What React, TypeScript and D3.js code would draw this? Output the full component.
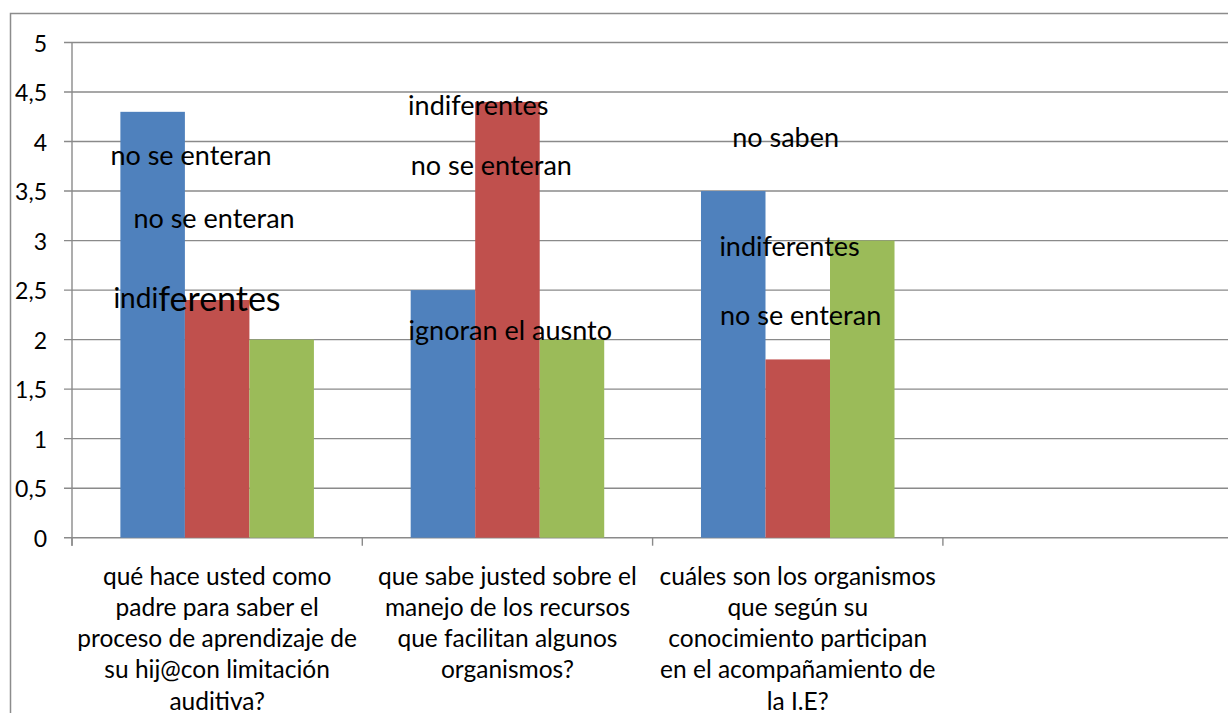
import { useEffect, useRef } from "react";
import * as d3 from "d3";

// questions (the 4th slot is empty in the original chart)
const categories = [
  [
    "qué hace usted como",
    "padre para saber el",
    "proceso de aprendizaje de",
    "su hij@con limitación",
    "auditiva?",
  ],
  [
    "que sabe justed sobre el",
    "manejo de los recursos",
    "que facilitan algunos",
    "organismos?",
  ],
  [
    "cuáles son los organismos",
    "que según su",
    "conocimiento participan",
    "en el acompañamiento de",
    "la I.E?",
  ],
  [],
];

const seriesNames = ["Serie1", "Serie2", "Serie3"];
const serie1 = [4.3, 2.5, 3.5];
const serie2 = [2.4, 4.4, 1.8];
const serie3 = [2.0, 2.0, 3.0];
const seriesColors = ["#4F81BD", "#C0504D", "#9BBB59"];

const yTicks = [0, 0.5, 1, 1.5, 2, 2.5, 3, 3.5, 4, 4.5, 5];

// free text boxes put over the chart
const noteCategory = [0, 0, 0, 1, 1, 1, 2, 2, 2];
const noteTexts = [
  "no se enteran",
  "no se enteran",
  "indiferentes",
  "indiferentes",
  "no se enteran",
  "ignoran el ausnto",
  "no saben",
  "indiferentes",
  "no se enteran",
];
const noteValues = [3.87, 3.23, 2.43, 4.37, 3.77, 2.1, 4.05, 2.95, 2.25];

const App = () => {
  const svgRef = useRef<SVGSVGElement>(null);

  useEffect(() => {
    if (!svgRef.current) return;
    const svg = d3.select(svgRef.current);
    svg.selectAll("*").remove();

    const width = 1228;
    const height = 713;
    const left = 72;
    const top = 42.5;
    const bottom = 537.7;
    const step = 290.3;
    const font = "Lato, 'Open Sans', sans-serif";

    // chart frame
    svg
      .append("path")
      .attr("d", `M10.5,${height} V13.5 H${width}`)
      .attr("fill", "none")
      .attr("stroke", "#8c8c8c")
      .attr("stroke-width", 1.5);

    const y = d3.scaleLinear().domain([0, 5]).range([bottom, top]);
    const x0 = d3
      .scaleBand<number>()
      .domain(categories.map((_, i) => i))
      .range([left, left + step * categories.length]);
    const x1 = d3
      .scaleBand<string>()
      .domain(seriesNames)
      .range([0, x0.bandwidth()])
      .paddingInner(0)
      .paddingOuter(0.75);

    // gridlines
    svg
      .append("g")
      .selectAll("line")
      .data(yTicks)
      .join("line")
      .attr("x1", left - 8)
      .attr("x2", width)
      .attr("y1", (d) => y(d))
      .attr("y2", (d) => y(d))
      .attr("stroke", "#8a8a8a")
      .attr("stroke-width", 1.4);

    // y axis
    svg
      .append("line")
      .attr("x1", left)
      .attr("x2", left)
      .attr("y1", top)
      .attr("y2", bottom + 8)
      .attr("stroke", "#8a8a8a")
      .attr("stroke-width", 1.4);

    svg
      .append("g")
      .selectAll("text")
      .data(yTicks)
      .join("text")
      .attr("x", 47)
      .attr("y", (d) => y(d))
      .attr("text-anchor", "end")
      .attr("dominant-baseline", "central")
      .attr("font-family", font)
      .attr("font-size", 23)
      .attr("fill", "#000")
      .text((d) => d3.format("")(d).replace(".", ","));

    // category ticks
    svg
      .append("g")
      .selectAll("line")
      .data(categories.map((_, i) => i))
      .join("line")
      .attr("x1", (d) => x0(d)!)
      .attr("x2", (d) => x0(d)!)
      .attr("y1", bottom)
      .attr("y2", bottom + 8)
      .attr("stroke", "#8a8a8a")
      .attr("stroke-width", 1.4);

    // bars
    const series = [serie1, serie2, serie3];
    series.forEach((vals, si) => {
      svg
        .append("g")
        .selectAll("rect")
        .data(vals)
        .join("rect")
        .attr("x", (_, i) => x0(i)! + x1(seriesNames[si])!)
        .attr("y", (d) => y(d))
        .attr("width", x1.bandwidth())
        .attr("height", (d) => y(0) - y(d))
        .attr("fill", seriesColors[si]);
    });

    // category labels (last line is cut by the picture edge, as in the source)
    const cat = svg.append("g");
    categories.forEach((lines, ci) => {
      cat
        .append("text")
        .attr("font-family", font)
        .attr("font-size", 24.5)
        .attr("fill", "#000")
        .attr("text-anchor", "middle")
        .selectAll("tspan")
        .data(lines)
        .join("tspan")
        .attr("x", x0(ci)! + x0.bandwidth() / 2)
        .attr("y", (_, li) => 575 + li * 31.3)
        .attr("dominant-baseline", "central")
        .text((d) => d);
    });

    // notes
    const noteOffsets = [119, 142, 125, 116, 129, 148, 133, 137, 148];
    const notes = svg.append("g");
    noteTexts.forEach((t, i) => {
      const tx = notes
        .append("text")
        .attr("x", x0(noteCategory[i])! + noteOffsets[i])
        .attr("y", y(noteValues[i]))
        .attr("text-anchor", "middle")
        .attr("dominant-baseline", "central")
        .attr("font-family", font)
        .attr("font-size", 27)
        .attr("fill", "#000");
      if (i === 2) {
        tx.append("tspan").attr("font-size", 28).text(t.slice(0, 4));
        tx.append("tspan").attr("font-size", 34).text(t.slice(4));
      } else {
        tx.text(t);
      }
    });
  }, []);

  return (
    <svg
      ref={svgRef}
      width={1228}
      height={713}
      style={{ position: "absolute", left: 0, top: 0, background: "#fff" }}
    />
  );
};

export default App;
